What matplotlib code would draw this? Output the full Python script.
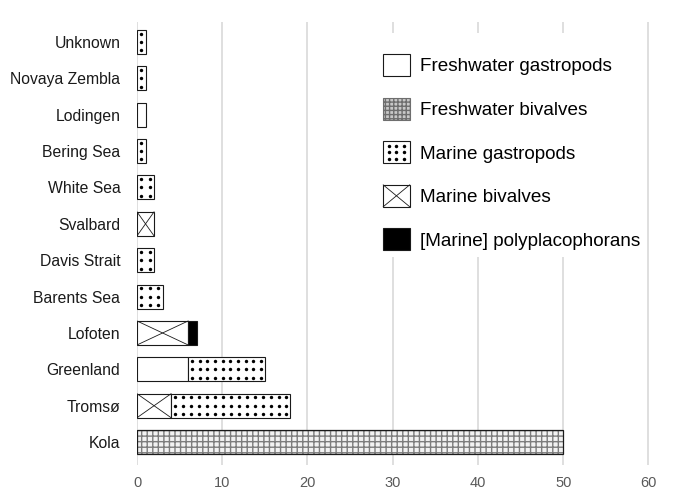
import matplotlib

matplotlib.use("Agg")
import matplotlib.pyplot as plt
from matplotlib.legend_handler import HandlerBase
from matplotlib.patches import Patch, Rectangle
from matplotlib.lines import Line2D

plt.rcParams["font.family"] = ["Liberation Sans", "DejaVu Sans"]

# Data (top row first, as in the picture)
regions = ["Unknown", "Novaya Zembla", "Lodingen", "Bering Sea", "White Sea",
           "Svalbard", "Davis Strait", "Barents Sea", "Lofoten", "Greenland",
           "Tromsø", "Kola"]
fw_gastropods = [0, 0, 1, 0, 0, 0, 0, 0, 0, 6, 0, 0]
fw_bivalves = [0, 0, 0, 0, 0, 0, 0, 0, 0, 0, 0, 50]
mar_bivalves = [0, 0, 0, 0, 0, 2, 0, 0, 6, 0, 4, 0]
mar_gastropods = [1, 1, 0, 1, 2, 0, 2, 3, 0, 9, 14, 0]
polyplacophorans = [0, 0, 0, 0, 0, 0, 0, 0, 1, 0, 0, 0]

labels = ["Freshwater gastropods", "Freshwater bivalves", "Marine gastropods",
          "Marine bivalves", "[Marine] polyplacophorans"]

INK = "#1a1a1a"
GRID = "#d9d9d9"
H = 0.66
DOT_STEP = 0.93   # horizontal spacing of the dot texture, in data units

fig = plt.figure(figsize=(6.74, 4.94), dpi=100)
ax = fig.add_axes([137 / 674, 29 / 494, 520 / 674, 443 / 494])

ypos = list(range(len(regions) - 1, -1, -1))


def draw_seg(y, left, width, kind):
    if width <= 0:
        return
    if kind == "fwg":
        ax.barh(y, width, left=left, height=H, color="white", edgecolor=INK, lw=0.8, zorder=3)
    elif kind == "fwb":
        ax.barh(y, width, left=left, height=H, color="#f2f2f2", edgecolor="#7d7d7d",
                hatch="+++", lw=0, zorder=3)
        ax.barh(y, width, left=left, height=H, fill=False, edgecolor=INK, lw=0.9, zorder=4)
    elif kind == "mg":
        ax.barh(y, width, left=left, height=H, color="white", edgecolor=INK, lw=0.8, zorder=3)
        n = max(1, round(width / DOT_STEP))
        xs, ys = [], []
        for k in range(n):
            for dy in (-0.23, 0.0, 0.23):
                xs.append(left + (k + 0.5) * width / n)
                ys.append(y + dy)
        ax.scatter(xs, ys, s=6, color="black", lw=0, zorder=4)
    elif kind == "mb":
        ax.barh(y, width, left=left, height=H, color="white", edgecolor=INK, lw=0.8, zorder=3)
        ax.plot([left, left + width], [y - H / 2, y + H / 2], color=INK, lw=0.6, zorder=4)
        ax.plot([left, left + width], [y + H / 2, y - H / 2], color=INK, lw=0.6, zorder=4)
    elif kind == "pp":
        ax.barh(y, width, left=left, height=H, color="black", edgecolor=INK, lw=0.8, zorder=3)


for i, y in enumerate(ypos):
    left = 0
    for vals, kind in ((fw_gastropods, "fwg"), (fw_bivalves, "fwb"), (mar_bivalves, "mb"),
                       (mar_gastropods, "mg"), (polyplacophorans, "pp")):
        draw_seg(y, left, vals[i], kind)
        left += vals[i]

ax.set_xlim(0, 61)
ax.set_ylim(-0.63, 11.55)
ax.set_xticks(range(0, 61, 10))
ax.set_yticks(ypos)
ax.set_yticklabels(regions, fontsize=11.3, color=INK)
ax.tick_params(axis="y", length=0, pad=12)
ax.tick_params(axis="x", length=0, pad=8, labelsize=10.5, labelcolor="#595959")
ax.xaxis.grid(True, color=GRID, lw=1.2, zorder=0)
ax.set_axisbelow(True)
for s in ax.spines.values():
    s.set_visible(False)

# white panel behind the legend hides the grid lines there
ax.add_patch(Rectangle((0.458, 0.470), 0.515, 0.506, transform=ax.transAxes,
                       facecolor="white", edgecolor="none", zorder=2))


class CrossHandler(HandlerBase):
    def create_artists(self, legend, orig, xd, yd, width, height, fontsize, trans):
        r = Rectangle((-xd, -yd), width, height, facecolor="white", edgecolor=INK,
                      lw=0.8, transform=trans)
        l1 = Line2D([-xd, -xd + width], [-yd, -yd + height], color=INK, lw=0.6, transform=trans)
        l2 = Line2D([-xd, -xd + width], [-yd + height, -yd], color=INK, lw=0.6, transform=trans)
        return [r, l1, l2]


class DotsHandler(HandlerBase):
    def create_artists(self, legend, orig, xd, yd, width, height, fontsize, trans):
        r = Rectangle((-xd, -yd), width, height, facecolor="white", edgecolor=INK,
                      lw=0.8, transform=trans)
        xs, ys = [], []
        for fx in (0.2, 0.5, 0.8):
            for fy in (0.2, 0.5, 0.8):
                xs.append(-xd + fx * width)
                ys.append(-yd + fy * height)
        dots = Line2D(xs, ys, ls="none", marker="o", ms=2.5, color="black", mew=0,
                      transform=trans)
        return [r, dots]


h_fwg = Patch(facecolor="white", edgecolor=INK, lw=0.8)
h_fwb = Patch(facecolor="#c8c8c8", edgecolor="#6e6e6e", hatch="++++", lw=0.8)
h_mg = Patch(facecolor="white", edgecolor=INK, lw=0.8)
h_mb = Patch(facecolor="white", edgecolor=INK, lw=0.8)
h_pp = Patch(facecolor="black", edgecolor=INK, lw=0.8)

leg = ax.legend([h_fwg, h_fwb, h_mg, h_mb, h_pp], labels,
                handler_map={h_mb: CrossHandler(), h_mg: DotsHandler()},
                loc="upper left", bbox_to_anchor=(233 / 520, 0.957),
                fontsize=13.6, frameon=False,
                handlelength=1.4, handleheight=1.4,
                handletextpad=0.55, labelspacing=1.15, borderpad=0.2)
leg.set_zorder(5)

fig.savefig("out.png", dpi=100, facecolor="white")
